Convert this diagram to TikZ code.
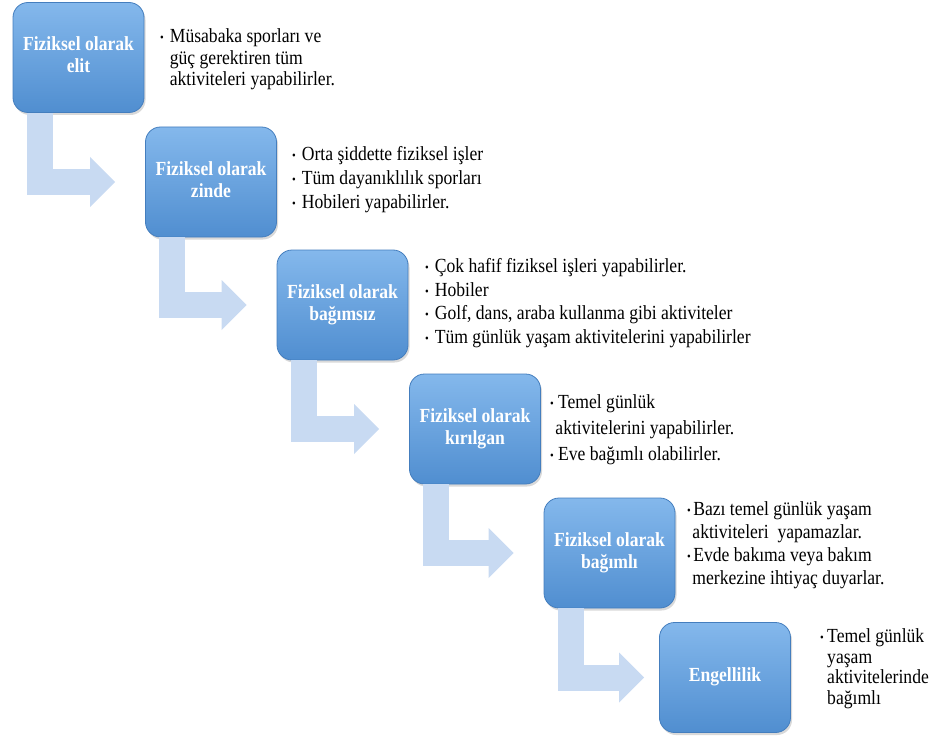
\documentclass[tikz,border=0pt]{standalone}
\usepackage{fontspec}
\setmainfont{Liberation Serif}
\usepackage{tikz}
\usetikzlibrary{shapes.geometric, arrows.meta, positioning}
\usetikzlibrary{shadows}
\definecolor{boxtop}{RGB}{132,184,236}
\definecolor{boxbottom}{RGB}{80,142,208}
\definecolor{boxedge}{RGB}{68,126,190}
\definecolor{arrowblue}{RGB}{200,218,242}
\tikzstyle{levelbox} = [rectangle, rounded corners=15pt, minimum width=131pt, minimum height=110pt, inner sep=0pt, top color=boxtop, bottom color=boxbottom, draw=boxedge, line width=0.8pt, drop shadow={shadow xshift=1.5pt, shadow yshift=-2.5pt, opacity=0.3}, text=white, font=\fontsize{20}{22}\selectfont\bfseries]
\tikzstyle{bentarrow} = [draw=arrowblue, line width=26pt, line join=miter, -{Triangle[length=25pt, width=50pt, line width=0pt, color=arrowblue]}]
\tikzstyle{listtext} = [anchor=base west, inner sep=0pt, align=left, xscale=0.88, transform shape, font=\fontsize{20}{23}\selectfont]
\newcommand{\blt}[1][11pt]{\makebox[#1][l]{\raisebox{1pt}{\fontsize{12}{12}\selectfont\textbullet}}}
\newcommand{\boxlbl}[1]{\scalebox{0.88}[1]{\begin{tabular}{@{}c@{}}#1\end{tabular}}}

\begin{document}
\begin{tikzpicture}[x=1pt, y=-1pt]
		\useasboundingbox (0,0) rectangle (947,738);
		% seviye kutulari
		\node[levelbox] (elit) at (78.5,57.5) {\boxlbl{Fiziksel olarak\\elit}};
		\node[levelbox] (zinde) at (211,182) {\boxlbl{Fiziksel olarak\\zinde}};
		\node[levelbox] (bagimsiz) at (342.5,305) {\boxlbl{Fiziksel olarak\\bağımsız}};
		\node[levelbox] (kirilgan) at (475,429) {\boxlbl{Fiziksel olarak\\kırılgan}};
		\node[levelbox] (bagimli) at (609.5,553) {\boxlbl{Fiziksel olarak\\bağımlı}};
		\node[levelbox] (engelli) at (725,677.5) {\boxlbl{Engellilik}};
		% oklar
		\draw[bentarrow] ([xshift=27pt]elit.south west) |- ([xshift=-30pt]zinde.west);
		\draw[bentarrow] ([xshift=27pt]zinde.south west) |- ([xshift=-30pt]bagimsiz.west);
		\draw[bentarrow] ([xshift=27pt]bagimsiz.south west) |- ([xshift=-30pt]kirilgan.west);
		\draw[bentarrow] ([xshift=27pt]kirilgan.south west) |- ([xshift=-30pt]bagimli.west);
		\draw[bentarrow] ([xshift=27pt]bagimli.south west) |- ([xshift=-15pt]engelli.west);
		% aciklamalar (base = son satir)
		\node[listtext, font=\fontsize{20}{21.5}\selectfont] (elitlist) at (160,86) {\blt Müsabaka sporları ve\\\hspace*{11pt}güç gerektiren tüm\\\hspace*{11pt}aktiviteleri yapabilirler.};
		\node[listtext, font=\fontsize{20}{24}\selectfont] (zindelist) at (292,208) {\blt Orta şiddette fiziksel işler\\\blt Tüm dayanıklılık sporları\\\blt Hobileri yapabilirler.};
		\node[listtext, font=\fontsize{20}{23.5}\selectfont] (bagimsizlist) at (425,343) {\blt Çok hafif fiziksel işleri yapabilirler.\\\blt Hobiler\\\blt Golf, dans, araba kullanma gibi aktiviteler\\\blt Tüm günlük yaşam aktivitelerini yapabilirler};
		\node[listtext, font=\fontsize{20}{26}\selectfont] (kirilganlist) at (550,460) {\blt[9pt]Temel günlük\\\hspace*{6pt}aktivitelerini yapabilirler.\\\blt[9pt]Eve bağımlı olabilirler.};
		\node[listtext] (bagimlilist) at (687,584) {\blt[7pt]Bazı temel günlük yaşam\\\hspace*{6pt}aktiviteleri~ yapamazlar.\\\blt[7pt]Evde bakıma veya bakım\\\hspace*{6pt}merkezine ihtiyaç duyarlar.};
		\node[listtext, font=\fontsize{20}{20.5}\selectfont] (engellilist) at (820,704) {\blt[8pt]Temel günlük\\\hspace*{8pt}yaşam\\\hspace*{8pt}aktivitelerinde\\\hspace*{8pt}bağımlı};
	\end{tikzpicture}
\end{document}
